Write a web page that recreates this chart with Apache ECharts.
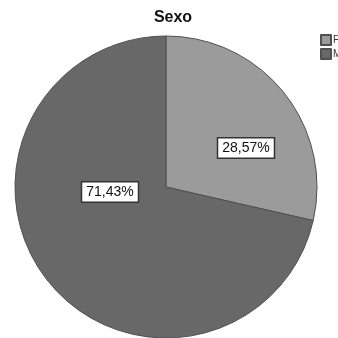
<!DOCTYPE html>
<html>
<head>
<meta charset="utf-8">
<script src="https://cdn.jsdelivr.net/npm/echarts@6/dist/echarts.min.js"></script>
<style>
  html, body { margin: 0; padding: 0; background: #fff; }
  #chart { width: 338px; height: 338px; }
</style>
</head>
<body>
<div id="chart"></div>
<script>
// Distribution by sex (percent of respondents)
const categories = ['Feminino', 'Masculino'];
const percentages = [28.57, 71.43];
const sliceColors = ['#9b9b9b', '#686868'];

// Label anchor points (pixels) for each slice's percentage box
const labelSpots = [[246, 148], [110, 192]];

const chart = echarts.init(document.getElementById('chart'), null, { renderer: 'canvas' });

chart.setOption({
  animation: false,
  backgroundColor: '#ffffff',
  title: {
    text: 'Sexo',
    left: 168,
    top: 5,
    textAlign: 'center',
    textStyle: { fontFamily: 'Liberation Sans', fontWeight: 'bold', fontSize: 16, color: '#111' }
  },
  legend: {
    orient: 'vertical',
    left: 320,
    top: 34,
    padding: 0,
    icon: 'rect',
    itemWidth: 10,
    itemHeight: 10,
    itemGap: 2,
    textStyle: { fontFamily: 'Liberation Sans', fontSize: 10, color: '#333', padding: [0, 0, 0, -3] },
    data: categories
  },
  series: [{
    type: 'pie',
    center: [166, 187],
    radius: [0, 151],
    startAngle: 90,
    clockwise: true,
    data: categories.map((name, i) => ({
      name,
      value: percentages[i],
      itemStyle: { color: sliceColors[i] }
    })),
    itemStyle: { borderColor: '#505050', borderWidth: 1 },
    label: {
      show: true,
      position: 'inside',
      formatter: p => p.value.toFixed(2).replace('.', ',') + '%',
      fontFamily: 'Liberation Sans',
      fontSize: 14,
      color: '#111',
      backgroundColor: '#ffffff',
      borderColor: '#333',
      borderWidth: 1.5,
      padding: [3, 4, 2, 4]
    },
    labelLayout: p => ({
      x: labelSpots[p.dataIndex][0],
      y: labelSpots[p.dataIndex][1],
      align: 'center',
      verticalAlign: 'middle'
    }),
    emphasis: { disabled: true }
  }]
});
</script>
</body>
</html>
